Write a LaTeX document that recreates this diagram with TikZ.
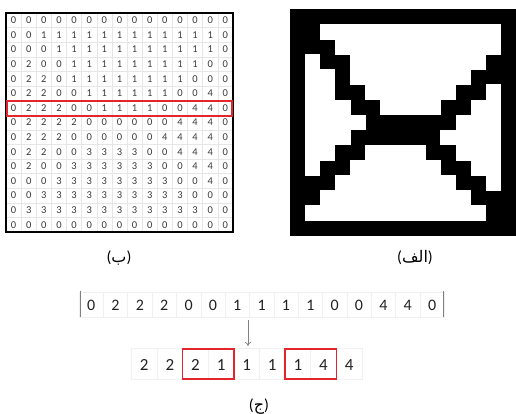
\documentclass[tikz,border=0pt]{standalone}
\usepackage{fontspec}
\setmainfont{Carlito}
\newfontfamily\arabicfont[Script=Arabic]{DejaVu Sans}
\TeXXeTstate=1
\usetikzlibrary{arrows.meta}
\definecolor{digitcol}{HTML}{3A3A3A}
\definecolor{rowcol}{HTML}{222222}
\definecolor{redbox}{HTML}{E3262B}
\definecolor{faint}{HTML}{E6E6E6}
\definecolor{fainter}{HTML}{F0F0F0}
\tikzset{
  gdigit/.style={inner sep=0pt, text=digitcol, font=\fontsize{10.5}{12}\selectfont},
  rdigit/.style={inner sep=0pt, text=rowcol, font=\fontsize{16}{18}\selectfont},
  bdigit/.style={inner sep=0pt, text=rowcol, font=\fontsize{17}{19}\selectfont},
  caption/.style={inner sep=0pt, text=black, font=\fontsize{16}{18}\selectfont},
  redframe/.style={draw=redbox, line width=1.3pt},
  faintcell/.style={draw=fainter, line width=0.5pt},
  flow/.style={draw=gray, line width=0.7pt, -{To[length=4pt,width=6pt]}}
}
\begin{document}
\begin{tikzpicture}[x=1pt,y=-1pt]
\useasboundingbox (0,0) rectangle (516,414);
\def\griddata{{0,0,0,0,0,0,0,0,0,0,0,0,0,0,0},
{0,0,1,1,1,1,1,1,1,1,1,1,1,1,0},
{0,0,0,1,1,1,1,1,1,1,1,1,1,1,0},
{0,2,0,0,1,1,1,1,1,1,1,1,1,0,0},
{0,2,2,0,1,1,1,1,1,1,1,1,0,0,0},
{0,2,2,0,0,1,1,1,1,1,1,0,0,4,0},
{0,2,2,2,0,0,1,1,1,1,0,0,4,4,0},
{0,2,2,2,2,0,0,0,0,0,0,4,4,4,0},
{0,2,2,2,0,0,0,0,0,0,4,4,4,4,0},
{0,2,2,0,0,3,3,3,3,0,0,4,4,4,0},
{0,2,0,0,3,3,3,3,3,3,0,0,4,4,0},
{0,0,0,3,3,3,3,3,3,3,3,0,0,4,0},
{0,0,3,3,3,3,3,3,3,3,3,3,0,0,0},
{0,3,3,3,3,3,3,3,3,3,3,3,3,0,0},
{0,0,0,0,0,0,0,0,0,0,0,0,0,0,0}}
% (b) grid lines
\foreach \i in {1,...,14} {
  \draw[faint, line width=0.5pt] ({6+\i*15.13},13) -- ({6+\i*15.13},232);
  \draw[faint, line width=0.5pt] (6,{13+\i*14.6}) -- (233,{13+\i*14.6});
}
% (alef) black background
\fill[black] (290,9) rectangle (516,236);
\foreach \row [count=\r from 0] in \griddata {
  \foreach \v [count=\c from 0] in \row {
    \node[gdigit] (g-\r-\c) at ({6+(\c+0.5)*15.13},{13+(\r+0.5)*14.6}) {\v};
    \ifnum\v>0
      \fill[white] ({290+\c*15.07-0.25},{9+\r*15.13-0.25}) rectangle ++(15.57,15.63);
    \fi
  }
}
\draw[black, line width=1.6pt] (6,13) rectangle (233,232);
\draw[redframe] (7,101) rectangle (232,116);
% captions
\node[caption] (lb) at (119,258) {({\arabicfont\beginR ب\endR})};
\node[caption] (la) at (415,258) {({\arabicfont\beginR الف\endR})};
% (j) top row
\foreach \v [count=\i from 0] in {0,2,2,2,0,0,1,1,1,1,0,0,4,4,0} {
  \draw[faintcell] ({79+\i*24.35},292) rectangle ++(24.35,25);
  \node[rdigit] (t-\i) at ({79+(\i+0.5)*24.35},305.5) {\v};
}
\draw[gray, line width=1pt] (80,291) -- (80,317);
\draw[gray, line width=1pt] (443,291) -- (443,317);
\coordinate (arrtop) at (248,320);
\coordinate (arrbot) at (248,346);
\draw[flow] (arrtop) -- (arrbot);
% bottom row
\foreach \v [count=\i from 0] in {2,2,2,1,1,1,1,4,4} {
  \draw[faintcell] ({131.5+\i*25.6},348) rectangle ++(25.6,31);
  \node[bdigit] (b-\i) at ({131.5+(\i+0.5)*25.6},365) {\v};
}
\draw[redframe] (182.7,349) rectangle (233.9,379);
\draw[redframe] (285.1,349) rectangle (336.3,379);
\node[caption] (lc) at (259,407) {({\arabicfont\beginR ج\endR})};
\end{tikzpicture}
\end{document}
